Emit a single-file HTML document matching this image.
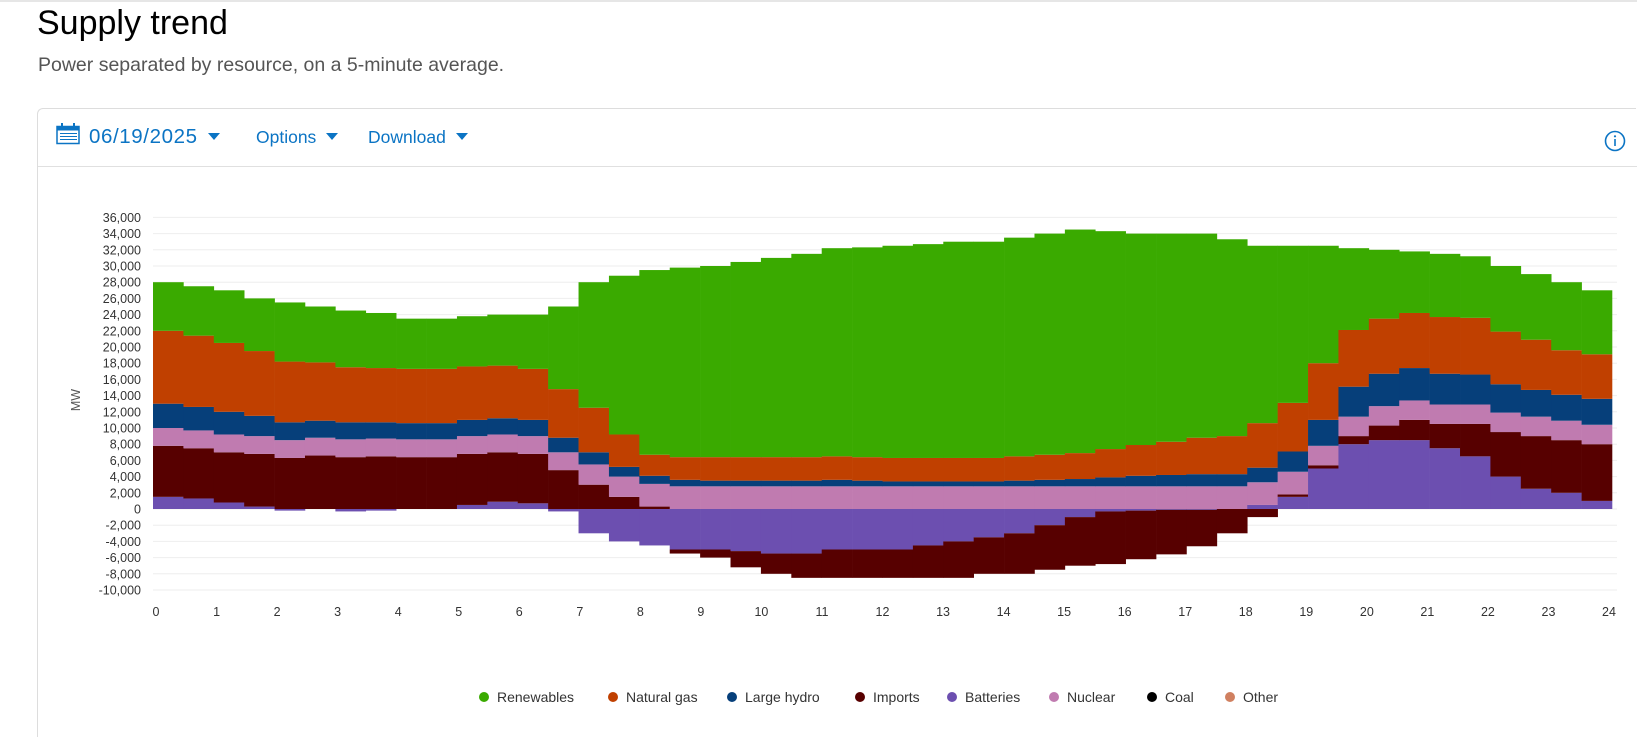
<!DOCTYPE html>
<html><head><meta charset="utf-8">
<style>
html,body{margin:0;width:1637px;height:737px;overflow:hidden}
body{background:#fff;font-family:"Liberation Sans",sans-serif;position:relative}
#topline{position:absolute;left:0;top:0;width:1637px;height:2px;background:#e6e6e6}
h1{position:absolute;left:37px;top:4px;margin:0;font-size:34px;font-weight:normal;color:#000}
#sub{position:absolute;left:38px;top:54px;font-size:19.5px;color:#555}
#card{position:absolute;left:37px;top:108px;width:1599px;height:629px;border:1px solid #ddd;border-right:none;border-bottom:none;border-radius:6px 0 0 0;box-sizing:border-box}
#toolbar-line{position:absolute;left:38px;top:166px;width:1599px;height:1px;background:#e0e0e0}
.tb{position:absolute;top:127px;font-size:17.5px;color:#0b74c4;white-space:nowrap}
.caret{display:inline-block;width:0;height:0;border-left:6px solid transparent;border-right:6px solid transparent;border-top:7px solid #0b74c4;vertical-align:middle;margin-left:10px;margin-top:-3px}
</style></head><body>
<div id="topline"></div>
<h1>Supply trend</h1>
<div id="sub">Power separated by resource, on a 5-minute average.</div>
<div id="card"></div>
<div id="toolbar-line"></div>
<svg style="position:absolute;left:56px;top:122px" width="25" height="24">
<rect x="1" y="4.5" width="22" height="17" fill="none" stroke="#0b74c4" stroke-width="1.5"/>
<rect x="1" y="4.5" width="22" height="4" fill="#0b74c4"/>
<rect x="5" y="1" width="2" height="5" fill="#0b74c4"/><rect x="17" y="1" width="2" height="5" fill="#0b74c4"/>
<g fill="#0b74c4"><rect x="4" y="11" width="17" height="1"/><rect x="4" y="14" width="17" height="1"/><rect x="4" y="17" width="17" height="1"/></g>
</svg>
<div class="tb" style="left:89px;top:125px;font-size:20.5px;letter-spacing:0.6px">06/19/2025<span class="caret"></span></div>
<div class="tb" style="left:256px">Options<span class="caret"></span></div>
<div class="tb" style="left:368px">Download<span class="caret"></span></div>
<svg style="position:absolute;left:1603px;top:129px" width="24" height="24">
<circle cx="12" cy="12" r="9.5" fill="none" stroke="#0b74c4" stroke-width="1.6"/>
<rect x="11.2" y="10" width="1.6" height="7" fill="#0b74c4"/><circle cx="12" cy="7.3" r="1.1" fill="#0b74c4"/>
</svg>
<svg id="chart" style="position:absolute;left:0;top:0" width="1637" height="737"></svg>
<script>
const hours=["0","1","2","3","4","5","6","7","8","9","10","11","12","13","14","15","16","17","18","19","20","21","22","23","24"];
const yTicks=[36000,34000,32000,30000,28000,26000,24000,22000,20000,18000,16000,14000,12000,10000,8000,6000,4000,2000,0,-2000,-4000,-6000,-8000,-10000];
const batteries=[1500,1300,800,300,-200,0,-300,-200,0,0,500,900,700,-300,-3000,-4000,-4500,-5000,-5000,-5200,-5500,-5500,-5000,-5000,-5000,-4500,-4000,-3500,-3000,-2000,-1000,-300,-200,-100,-100,0,500,1500,5000,8000,8500,8500,7500,6500,4000,2500,2000,1000];
const imports=[6300,6200,6200,6500,6300,6600,6400,6500,6400,6400,6300,6100,6100,4800,3000,1500,300,-500,-1000,-2000,-2500,-3000,-3500,-3500,-3500,-4000,-4500,-4500,-5000,-5500,-6000,-6500,-6000,-5500,-4500,-3000,-1000,300,400,1000,1800,2500,3000,4000,5500,6500,6500,7000];
const nuclear=[2200,2200,2200,2200,2200,2200,2200,2200,2200,2200,2200,2200,2200,2200,2500,2500,2800,2800,2800,2800,2800,2800,2800,2800,2800,2800,2800,2800,2800,2800,2800,2800,2800,2800,2800,2800,2800,2800,2400,2400,2400,2400,2400,2400,2400,2400,2400,2400];
const hydro=[3000,2900,2800,2500,2200,2100,2100,2000,2000,2000,2000,2000,2000,1800,1500,1200,1000,800,700,700,700,700,800,700,600,600,600,600,700,800,900,1100,1300,1400,1500,1500,1800,2500,3200,3700,4000,4000,3800,3700,3500,3300,3200,3200];
const gas=[9000,8800,8500,8000,7500,7200,6800,6700,6700,6700,6600,6500,6300,6000,5500,4000,2600,2800,2900,2900,2900,2900,2900,2900,2900,2900,2900,2900,3000,3100,3200,3500,3800,4100,4500,4700,5500,6000,7000,7000,6800,6800,7000,7000,6500,6200,5500,5500];
const renewables=[6000,6100,6500,6500,7300,6900,7000,6800,6200,6200,6200,6300,6700,10200,15500,19600,22800,23400,23600,24100,24600,25100,25700,25900,26200,26400,26700,26700,27000,27300,27600,26900,26100,25700,25200,24300,21900,19400,14500,10100,8500,7600,7800,7600,8100,8100,8400,7900];
const seriesNames=["Renewables","Natural gas","Large hydro","Imports","Batteries","Nuclear","Coal","Other"];
const NS="http://www.w3.org/2000/svg";
const svg=document.getElementById('chart');
const X0=153,X1=1612,Y0=509,PX=8.1/1000;
const LX0=156,LX1=1609;
const yv=v=>Y0-v*PX;
function mk(t,a){const e=document.createElementNS(NS,t);for(const k in a)e.setAttribute(k,a[k]);svg.appendChild(e);return e;}
yTicks.forEach(v=>{
  const g=mk('line',{x1:153,x2:1617,y1:yv(v),y2:yv(v),stroke:'#eeeeee','stroke-width':1});
  
  
  const t=mk('text',{x:141,y:yv(v)+4.5,'text-anchor':'end','font-size':12.5,fill:'#333','font-family':'Liberation Sans, sans-serif'});
  t.textContent=v.toLocaleString('en-US');
  
  
});
hours.forEach((h,i)=>{
  const t=mk('text',{x:LX0+(LX1-LX0)*i/(hours.length-1),y:616,'text-anchor':'middle','font-size':12.5,fill:'#333','font-family':'Liberation Sans, sans-serif'});
  t.textContent=h;
  
  
});
const yt=mk('text',{x:80,y:400,'text-anchor':'middle','font-size':12.5,fill:'#555',transform:'rotate(-90 80 400)','font-family':'Liberation Sans, sans-serif'});
yt.textContent='MW';


const colors={bat:'#6c4fb0',imp:'#570000',nuc:'#c07bb0',hyd:'#063f7a',gas:'#c04000',ren:'#3aaa00'};
const n=renewables.length,bw=(X1-X0)/n;
function bar(i,from,to,c,name){
  if(from===to)return;
  const r=mk('rect',{x:X0+i*bw,width:bw+0.3,y:yv(Math.max(from,to)),height:Math.abs(to-from)*PX,fill:c});
  
  
}
for(let i=0;i<n;i++){
  let pos=0,neg=0;
  const order=[[batteries[i],colors.bat,'bar-batteries'],[imports[i],colors.imp,'bar-imports'],[nuclear[i],colors.nuc,'bar-nuclear'],[hydro[i],colors.hyd,'bar-large-hydro'],[gas[i],colors.gas,'bar-natural-gas'],[renewables[i],colors.ren,'bar-renewables']];
  order.forEach(([v,c,nm])=>{
    if(v>=0){bar(i,pos,pos+v,c,nm);pos+=v;}
    else{bar(i,neg,neg+v,c,nm);neg+=v;}
  });
}
const legColors=['#3aaa00','#c04000','#063f7a','#570000','#6c4fb0','#c07bb0','#000000','#d08060'];
const legX=[484,613,732,860,952,1054,1152,1230];
seriesNames.forEach((s,i)=>{
  const c=mk('circle',{cx:legX[i],cy:697,r:5,fill:legColors[i]});
  
  
  const t=mk('text',{x:legX[i]+13,y:702,'font-size':14,fill:'#333','font-family':'Liberation Sans, sans-serif'});
  t.textContent=s;
  
  
});
</script>
</body></html>
